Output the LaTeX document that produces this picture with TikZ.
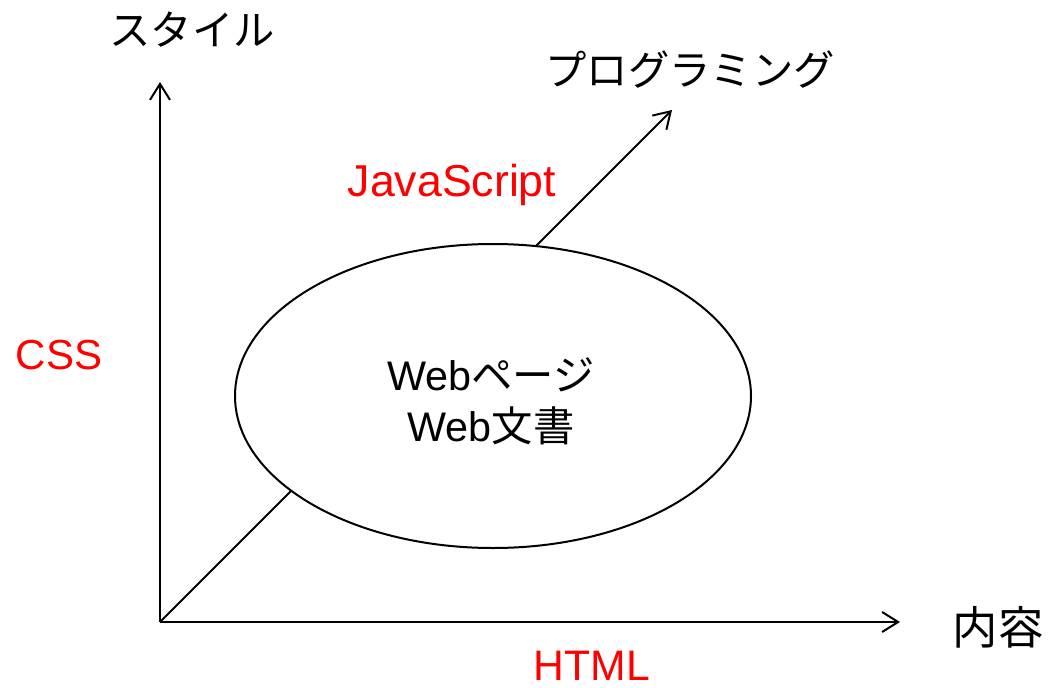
\documentclass[tikz,border=0pt]{standalone}
\usepackage{fontspec}
\setmainfont{Noto Sans CJK JP}
\newfontfamily\lat{Liberation Sans}
\usetikzlibrary{arrows.meta,shapes.geometric}
\begin{document}
\begin{tikzpicture}[x=0.75pt,y=-0.75pt,
  axis/.style={line width=1.5pt,-{Straight Barb[length=12pt,width=15pt,line width=1.5pt]}},
  lbl/.style={font=\fontsize{31}{36}\selectfont,inner sep=0pt},
  red lbl/.style={lbl,text=red,font=\fontsize{31.5}{36}\selectfont\lat}]
\useasboundingbox (0,0) rectangle (1049,688);
\coordinate (o) at (160,622);
\coordinate (ytip) at (160,82);
\coordinate (xtip) at (900,622);
\coordinate (ztip) at (672,110);
\draw[axis] (o) -- (ytip);
\draw[axis] (o) -- (xtip);
\draw[axis] (o) -- (ztip);
\node[ellipse,draw,line width=1.5pt,fill=white,minimum width=387pt,minimum height=228pt] (web) at (493,396) {};
\node[lbl,align=center] (webtxt) at (491,401) {{\lat Web}ページ\\[2pt]{\lat Web}文書};
\node[lbl] (style) at (192,30) {スタイル};
\node[lbl] (prog) at (690,70) {プログラミング};
\node[lbl,font=\fontsize{34}{38}\selectfont] (naiyo) at (998,627) {内容};
\node[red lbl,font=\fontsize{33.5}{38}\selectfont\lat] (js) at (452,185) {JavaScript};
\node[red lbl] (css) at (59,355) {CSS};
\node[red lbl,font=\fontsize{32}{38}\selectfont\lat] (html) at (592,666) {HTML};
\end{tikzpicture}
\end{document}
